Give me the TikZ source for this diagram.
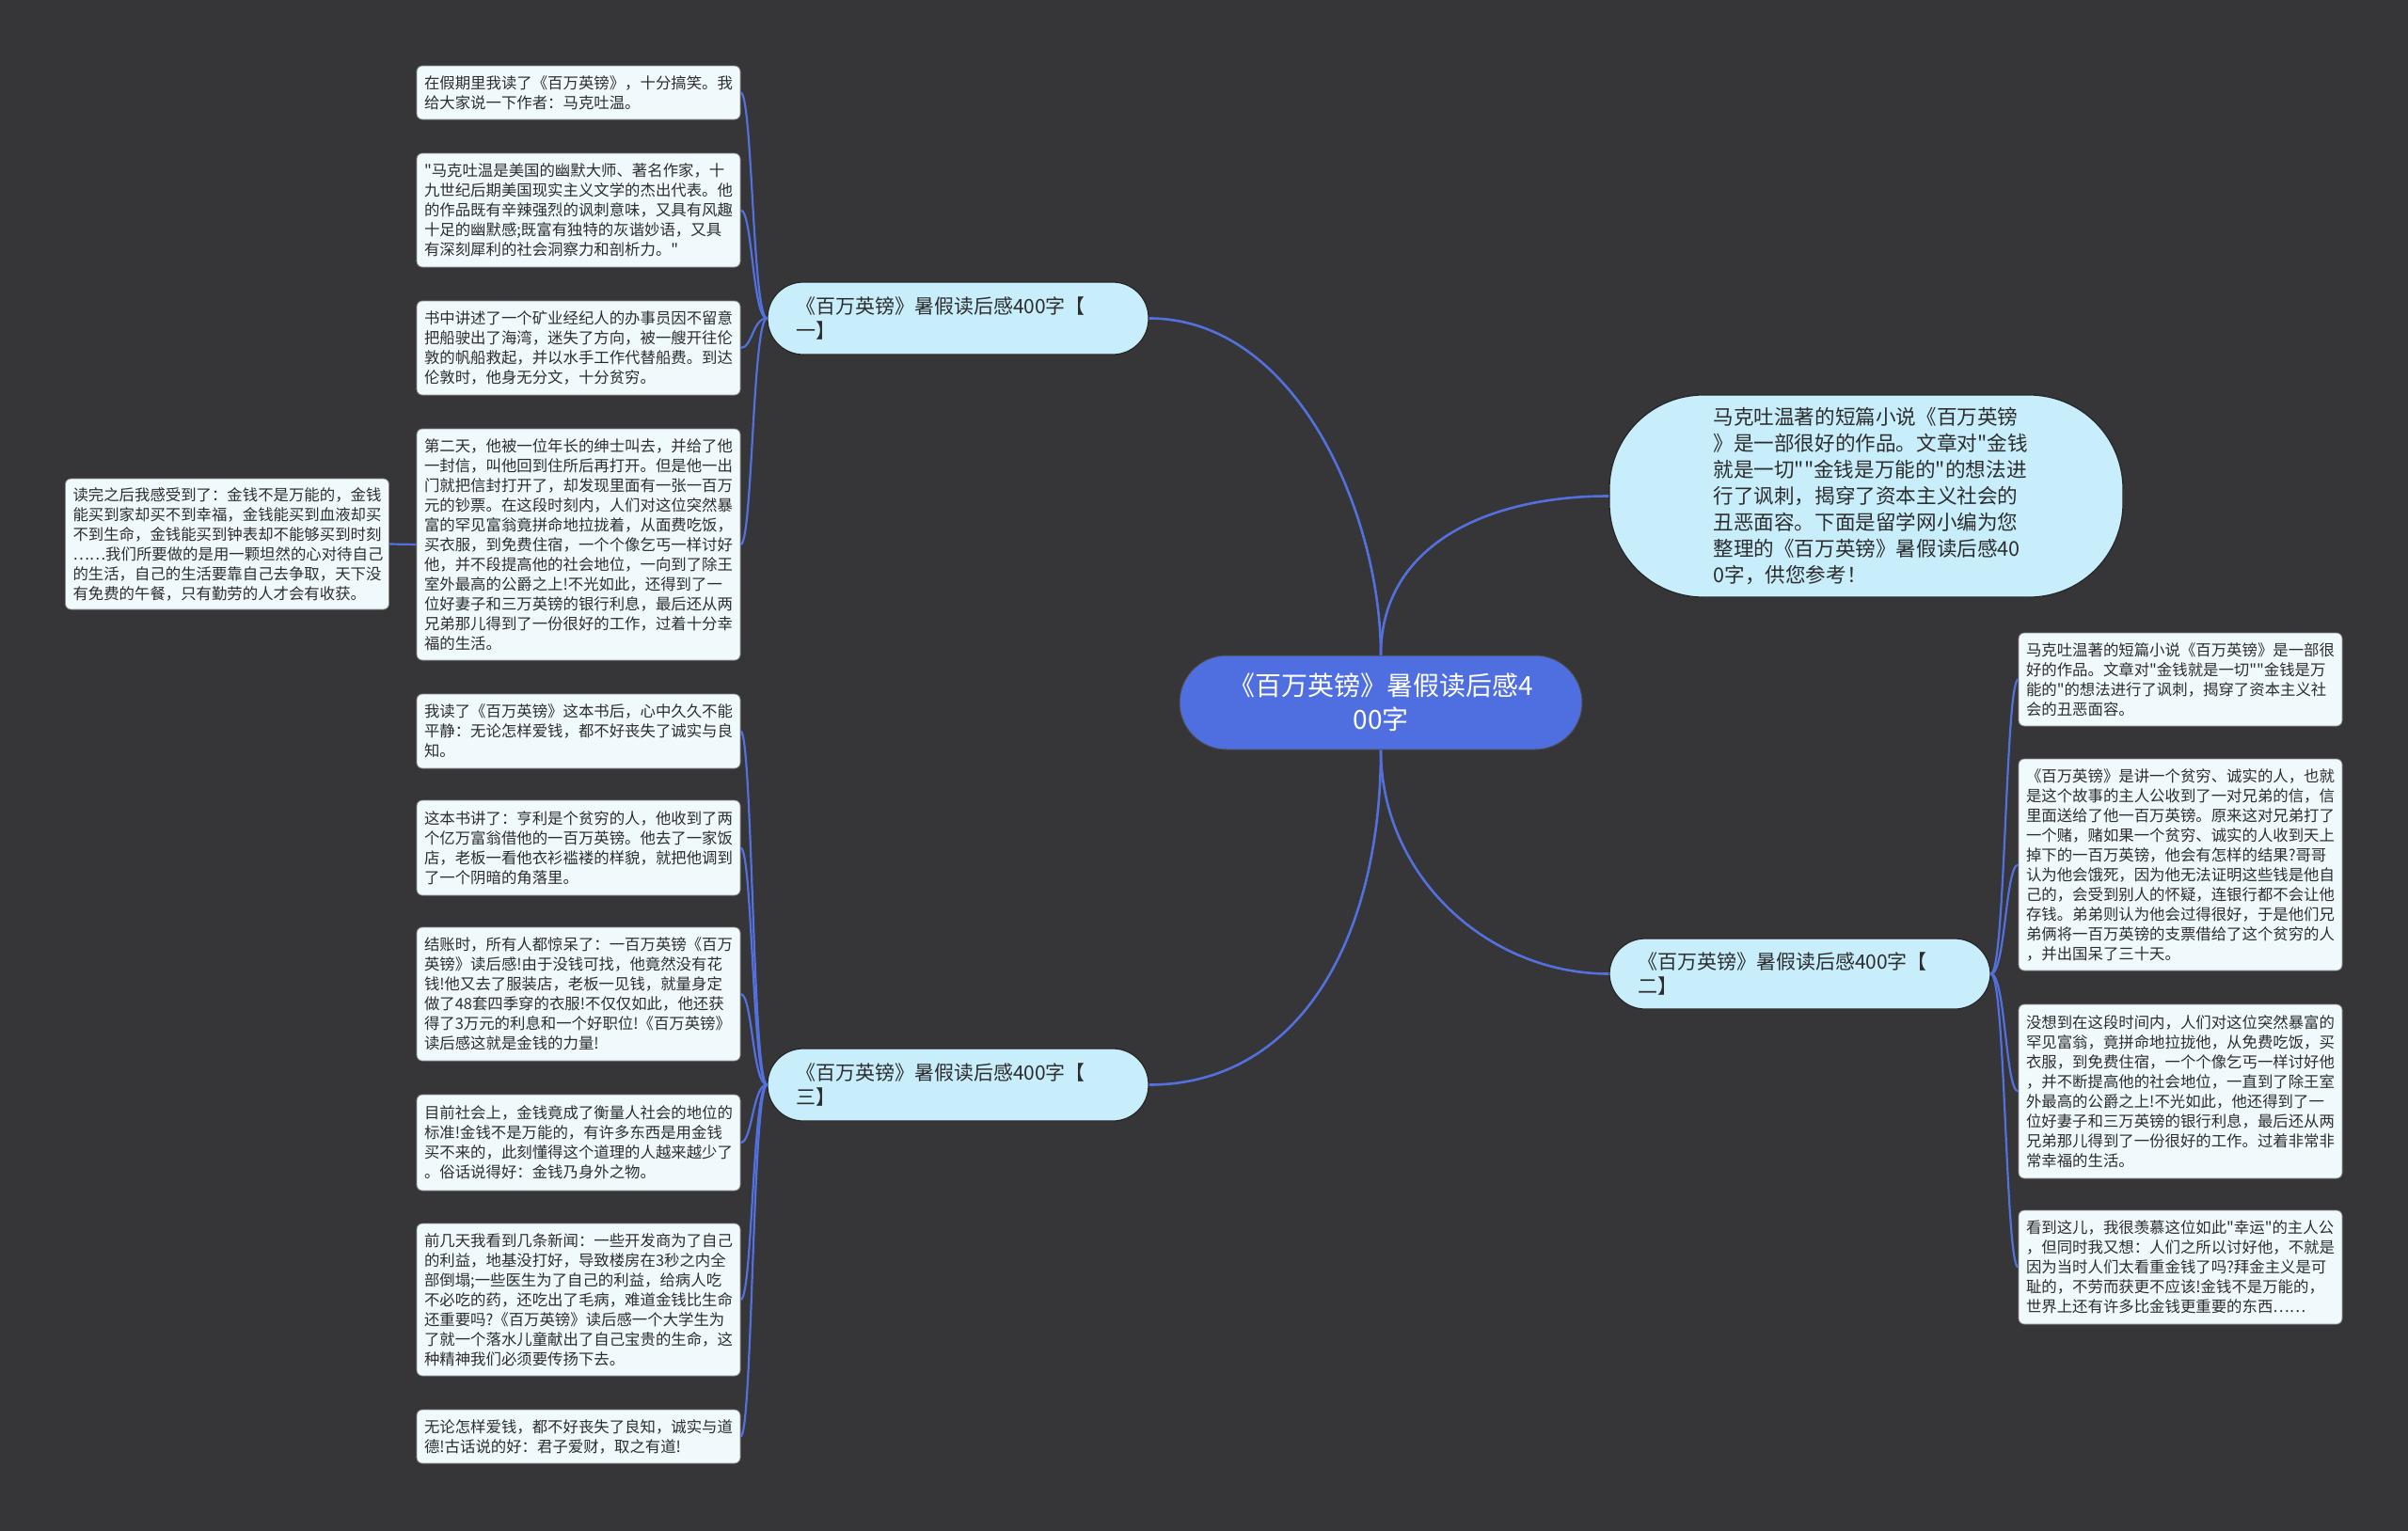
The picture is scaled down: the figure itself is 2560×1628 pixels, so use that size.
\documentclass[tikz,border=0pt]{standalone}
\usepackage{fontspec}
\setmainfont{Noto Sans CJK SC}[Ligatures=TeXOff]
\definecolor{bgc}{RGB}{54,53,55}
\definecolor{linec}{RGB}{84,112,222}
\definecolor{rootc}{RGB}{79,111,224}
\definecolor{branchc}{RGB}{200,238,252}
\definecolor{leafc}{RGB}{240,250,252}
\definecolor{txtc}{RGB}{45,45,45}
\begin{document}
\begin{tikzpicture}[x=1pt,y=-1pt,
  conn/.style={draw=linec,line width=2.6pt},
  rootbox/.style={fill=rootc,draw=black!70,line width=1pt,rounded corners=50pt,
    minimum width=428pt,minimum height=100pt,text width=330pt,align=center,
    text=white,font=\fontsize{28}{36}\selectfont,inner xsep=0pt,inner ysep=0pt},
  branchbox/.style={fill=branchc,draw=black!85,line width=1.2pt,rounded corners=38pt,
    text width=345pt,inner xsep=30pt,inner ysep=0pt,minimum height=77pt,align=left,
    text=txtc,font=\fontsize{21}{26}\selectfont},
  introbox/.style={fill=branchc,draw=black!85,line width=1.2pt,rounded corners=100pt,
    text width=325pt,inner xsep=110.5pt,inner ysep=0pt,minimum height=215pt,align=left,
    text=txtc,font=\fontsize{21.6}{28}\selectfont},
  leafbox/.style={fill=leafc,draw=black!45,line width=0.8pt,rounded corners=6pt,
    text width=328pt,inner xsep=8pt,inner ysep=2pt,align=left,
    text=txtc,font=\fontsize{16.4}{21}\selectfont}
]
\useasboundingbox (0,0) rectangle (2560,1628);
\fill[bgc] (0,0) rectangle (2560,1628);

% root and branches
\node[rootbox] (c) at (1468,747) {《百万英镑》暑假读后感4\\00字};
\node[branchbox] (b1) at (1018.5,338.5) {《百万英镑》暑假读后感400字【\\一】};
\node[branchbox,minimum height=75pt] (b2) at (1913.5,1035.5) {《百万英镑》暑假读后感400字【\\二】};
\node[branchbox] (b3) at (1018.5,1153.5) {《百万英镑》暑假读后感400字【\\三】};
\node[introbox] (intro) at (1984,527.5) {马克吐温著的短篇小说《百万英镑\\》是一部很好的作品。文章对"金钱\\就是一切""金钱是万能的"的想法进\\行了讽刺，揭穿了资本主义社会的\\丑恶面容。下面是留学网小编为您\\整理的《百万英镑》暑假读后感40\\0字，供您参考！};

% branch 1 leaves
\node[leafbox,minimum height=57pt] (l1a) at (615,98.5) {在假期里我读了《百万英镑》，十分搞笑。我\\给大家说一下作者：马克吐温。};
\node[leafbox,minimum height=121pt] (l1b) at (615,223.5) {"马克吐温是美国的幽默大师、著名作家，十\\九世纪后期美国现实主义文学的杰出代表。他\\的作品既有辛辣强烈的讽刺意味，又具有风趣\\十足的幽默感;既富有独特的灰谐妙语，又具\\有深刻犀利的社会洞察力和剖析力。"};
\node[leafbox,minimum height=100pt] (l1c) at (615,370) {书中讲述了一个矿业经纪人的办事员因不留意\\把船驶出了海湾，迷失了方向，被一艘开往伦\\敦的帆船救起，并以水手工作代替船费。到达\\伦敦时，他身无分文，十分贫穷。};
\node[leafbox,minimum height=246pt] (l1d) at (615,579) {第二天，他被一位年长的绅士叫去，并给了他\\一封信，叫他回到住所后再打开。但是他一出\\门就把信封打开了，却发现里面有一张一百万\\元的钞票。在这段时刻内，人们对这位突然暴\\富的罕见富翁竟拼命地拉拢着，从面费吃饭，\\买衣服，到免费住宿，一个个像乞丐一样讨好\\他，并不段提高他的社会地位，一向到了除王\\室外最高的公爵之上!不光如此，还得到了一\\位好妻子和三万英镑的银行利息，最后还从两\\兄弟那儿得到了一份很好的工作，过着十分幸\\福的生活。};
\node[leafbox,minimum height=139pt] (l1e) at (241.5,578.5) {读完之后我感受到了：金钱不是万能的，金钱\\能买到家却买不到幸福，金钱能买到血液却买\\不到生命，金钱能买到钟表却不能够买到时刻\\……我们所要做的是用一颗坦然的心对待自己\\的生活，自己的生活要靠自己去争取，天下没\\有免费的午餐，只有勤劳的人才会有收获。};

% branch 3 leaves
\node[leafbox,minimum height=79pt] (l3a) at (615,777.5) {我读了《百万英镑》这本书后，心中久久不能\\平静：无论怎样爱钱，都不好丧失了诚实与良\\知。};
\node[leafbox,minimum height=101pt] (l3b) at (615,901.5) {这本书讲了：亨利是个贫穷的人，他收到了两\\个亿万富翁借他的一百万英镑。他去了一家饭\\店，老板一看他衣衫褴褛的样貌，就把他调到\\了一个阴暗的角落里。};
\node[leafbox,minimum height=142pt] (l3c) at (615,1057) {结账时，所有人都惊呆了：一百万英镑《百万\\英镑》读后感!由于没钱可找，他竟然没有花\\钱!他又去了服装店，老板一见钱，就量身定\\做了48套四季穿的衣服!不仅仅如此，他还获\\得了3万元的利息和一个好职位!《百万英镑》\\读后感这就是金钱的力量!};
\node[leafbox,minimum height=102pt] (l3d) at (615,1215) {目前社会上，金钱竟成了衡量人社会的地位的\\标准!金钱不是万能的，有许多东西是用金钱\\买不来的，此刻懂得这个道理的人越来越少了\\。俗话说得好：金钱乃身外之物。};
\node[leafbox,minimum height=162pt] (l3e) at (615,1382) {前几天我看到几条新闻：一些开发商为了自己\\的利益，地基没打好，导致楼房在3秒之内全\\部倒塌;一些医生为了自己的利益，给病人吃\\不必吃的药，还吃出了毛病，难道金钱比生命\\还重要吗?《百万英镑》读后感一个大学生为\\了就一个落水儿童献出了自己宝贵的生命，这\\种精神我们必须要传扬下去。};
\node[leafbox,minimum height=57pt] (l3f) at (615,1527.5) {无论怎样爱钱，都不好丧失了良知，诚实与道\\德!古话说的好：君子爱财，取之有道!};

% branch 2 leaves
\node[leafbox,minimum height=99pt] (r2a) at (2318,722.5) {马克吐温著的短篇小说《百万英镑》是一部很\\好的作品。文章对"金钱就是一切""金钱是万\\能的"的想法进行了讽刺，揭穿了资本主义社\\会的丑恶面容。};
\node[leafbox,minimum height=225pt] (r2b) at (2318,919.5) {《百万英镑》是讲一个贫穷、诚实的人，也就\\是这个故事的主人公收到了一对兄弟的信，信\\里面送给了他一百万英镑。原来这对兄弟打了\\一个赌，赌如果一个贫穷、诚实的人收到天上\\掉下的一百万英镑，他会有怎样的结果?哥哥\\认为他会饿死，因为他无法证明这些钱是他自\\己的，会受到别人的怀疑，连银行都不会让他\\存钱。弟弟则认为他会过得很好，于是他们兄\\弟俩将一百万英镑的支票借给了这个贫穷的人\\，并出国呆了三十天。};
\node[leafbox,minimum height=185pt] (r2c) at (2318,1160.5) {没想到在这段时间内，人们对这位突然暴富的\\罕见富翁，竟拼命地拉拢他，从免费吃饭，买\\衣服，到免费住宿，一个个像乞丐一样讨好他\\，并不断提高他的社会地位，一直到了除王室\\外最高的公爵之上!不光如此，他还得到了一\\位好妻子和三万英镑的银行利息，最后还从两\\兄弟那儿得到了一份很好的工作。过着非常非\\常幸福的生活。};
\node[leafbox,minimum height=121pt] (r2d) at (2318,1347.5) {看到这儿，我很羡慕这位如此"幸运"的主人公\\，但同时我又想：人们之所以讨好他，不就是\\因为当时人们太看重金钱了吗?拜金主义是可\\耻的，不劳而获更不应该!金钱不是万能的，\\世界上还有许多比金钱更重要的东西……};

% connectors root -> branches
\draw[conn] (c.north) .. controls (1468,550) and (1380,338.5) .. (b1.east);
\draw[conn] (c.north) .. controls (1468,580) and (1580,527.5) .. (intro.west);
\draw[conn] (c.south) .. controls (1468,930) and (1580,1035.5) .. (b2.west);
\draw[conn] (c.south) .. controls (1468,1000) and (1380,1153.5) .. (b3.east);

% branch -> leaves
\foreach \n in {l1a,l1b,l1c,l1d}{
  \draw[conn,line width=2.2pt] (b1.west) .. controls (800,338.5) and (800,0|-\n.east) .. (\n.east);
}
\foreach \n in {l3a,l3b,l3c,l3d,l3e,l3f}{
  \draw[conn,line width=2.2pt] (b3.west) .. controls (800,1153.5) and (800,0|-\n.east) .. (\n.east);
}
\foreach \n in {r2a,r2b,r2c,r2d}{
  \draw[conn,line width=2.2pt] (b2.east) .. controls (2132,1035.5) and (2132,0|-\n.west) .. (\n.west);
}
\draw[conn,line width=2.2pt] (l1d.west) -- (l1e.east);
\end{tikzpicture}
\end{document}
